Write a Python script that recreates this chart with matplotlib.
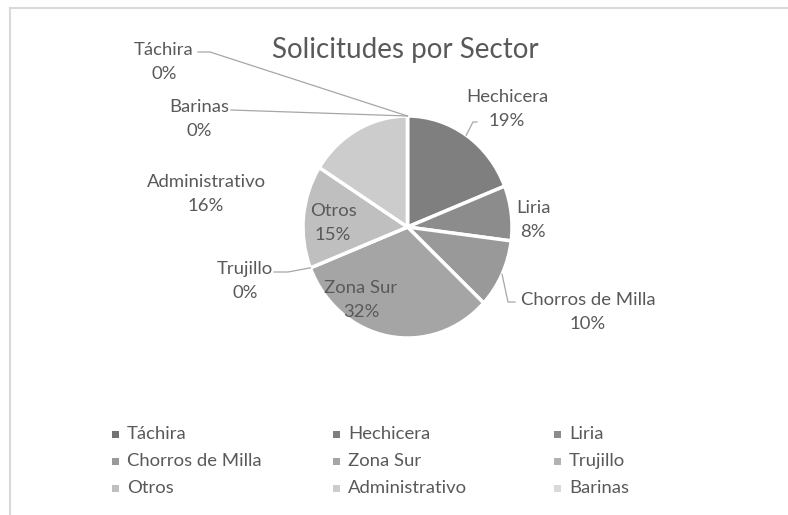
import matplotlib.pyplot as plt
from matplotlib.patches import Rectangle
from matplotlib.lines import Line2D
import numpy as np

plt.rcParams['font.family'] = ['Lato', 'DejaVu Sans']

# Datos
sectores = ['Táchira', 'Hechicera', 'Liria', 'Chorros de Milla', 'Zona Sur',
            'Trujillo', 'Otros', 'Administrativo', 'Barinas']
porcentajes = [0, 19, 8, 10, 32, 0, 15, 16, 0]
grises = ['#737373', '#7f7f7f', '#8c8c8c', '#999999', '#a5a5a5',
          '#b2b2b2', '#bfbfbf', '#cccccc', '#d9d9d9']

TXT = '#595959'
FS = 13.3
W, H = 788, 515
# centro y radios (px) de la torta
CX, CY, RX, RY = 407.5, 227, 104.5, 111


def px(x, y):
    """pixeles (origen arriba-izq) -> coordenadas de datos"""
    return (x - CX) / RX, (CY - y) / RY


fig = plt.figure(figsize=(W / 100, H / 100), dpi=100)
ax = fig.add_axes([0, 0, 1, 1])
wedges, _ = ax.pie(porcentajes, colors=grises, startangle=90, counterclock=False,
                   wedgeprops=dict(edgecolor='white', linewidth=2.5))
ax.set_aspect('auto')
ax.set_xlim(px(0, 0)[0], px(W, 0)[0])
ax.set_ylim(px(0, H)[1], px(0, 0)[1])
ax.axis('off')

# Titulo
ax.text(*px(405, 50), 'Solicitudes por Sector', fontsize=20, color=TXT,
        ha='center', va='center')

# Etiquetas de datos
pos_etiq = {'Táchira': (164, 62), 'Hechicera': (507, 109), 'Liria': (533, 220),
            'Chorros de Milla': (588, 312), 'Zona Sur': (361, 300),
            'Trujillo': (245, 281), 'Otros': (333, 223),
            'Administrativo': (206, 194), 'Barinas': (199, 119)}
guias = {'Táchira': [(198, 52), (210, 52)],
         'Barinas': [(231, 110)],
         'Hechicera': [(477, 122), (473, 122)],
         'Chorros de Milla': [(515, 302), (508, 302)],
         'Trujillo': [(274, 272), (288, 272)]}

for w, nombre, v in zip(wedges, sectores, porcentajes):
    ax.text(*px(*pos_etiq[nombre]), f'{nombre}\n{v}%', fontsize=FS, color=TXT,
            ha='center', va='center', linespacing=1.6)
    if nombre in guias:
        ang = np.deg2rad((w.theta1 + w.theta2) / 2)
        pts = [px(*p) for p in guias[nombre]] + [(np.cos(ang), np.sin(ang))]
        xs, ys = zip(*pts)
        ax.plot(xs, ys, color='#a6a6a6', lw=0.9)

# Leyenda
col_x = [115, 336, 557]
fila_y = [434, 461, 488]
for i, (nombre, c) in enumerate(zip(sectores, grises)):
    r, k = divmod(i, 3)
    x0, y0 = col_x[k], fila_y[r]
    ax.add_patch(Rectangle(px(x0 - 3.5, y0 + 3.5), 7 / RX, 7 / RY, color=c, lw=0))
    ax.text(*px(x0 + 12, y0), nombre, fontsize=FS, color=TXT, ha='left', va='center')

# Borde del area del grafico
fig.add_artist(Line2D([10 / W, 1], [1 - 8 / H, 1 - 8 / H], transform=fig.transFigure,
                      color='#d9d9d9', lw=1.5))
fig.add_artist(Line2D([10 / W, 10 / W], [0, 1 - 8 / H], transform=fig.transFigure,
                      color='#d9d9d9', lw=1.5))

fig.savefig('out.png', dpi=100)
